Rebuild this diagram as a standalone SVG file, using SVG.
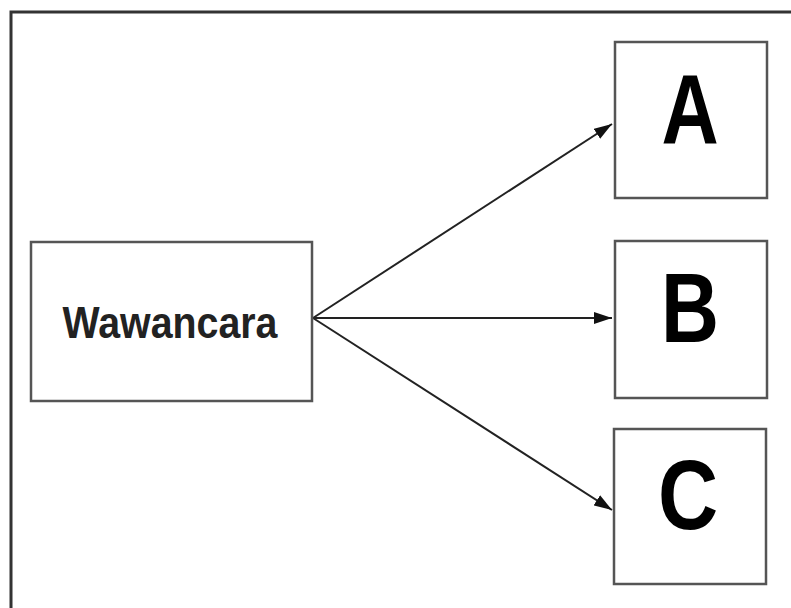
<svg xmlns="http://www.w3.org/2000/svg" width="791" height="608" viewBox="0 0 791 608">
  <style>
    .box { fill: #ffffff; stroke: #555555; stroke-width: 2.5; }
    .edge { stroke: #222222; stroke-width: 2; fill: none; marker-end: url(#arrow); }
    .label { font-family: "Liberation Sans", Arial, sans-serif; font-weight: bold; text-anchor: middle; }
  </style>
  <defs>
    <marker id="arrow" viewBox="0 0 18 12" refX="18" refY="6" markerWidth="18" markerHeight="12" markerUnits="userSpaceOnUse" orient="auto">
      <path d="M0,0 L18,6 L0,12 Z" fill="#111111"/>
    </marker>
  </defs>

  <!-- page background and frame -->
  <rect x="0" y="0" width="791" height="608" fill="#ffffff"/>
  <path d="M11,608 L11,12 L791,12" fill="none" stroke="#333333" stroke-width="3"/>

  <!-- connectors -->
  <g id="edges">
    <line class="edge" x1="313" y1="318" x2="612" y2="124"/>
    <line class="edge" x1="313" y1="318" x2="612" y2="318"/>
    <line class="edge" x1="313" y1="318" x2="612" y2="510"/>
  </g>

  <g id="node-wawancara">
    <rect class="box" x="31" y="242" width="281" height="159"/>
    <text class="label" x="170" y="338" font-size="44" fill="#222222" textLength="215" lengthAdjust="spacingAndGlyphs">Wawancara</text>
  </g>

  <g id="node-a">
    <rect class="box" x="615" y="42" width="152" height="156"/>
    <text class="label" font-size="99" fill="#000000" transform="translate(690,143) scale(0.8,1)">A</text>
  </g>

  <g id="node-b">
    <rect class="box" x="615" y="241" width="152" height="157"/>
    <text class="label" font-size="98" fill="#000000" transform="translate(690,342) scale(0.82,1)">B</text>
  </g>

  <g id="node-c">
    <rect class="box" x="614" y="429" width="152" height="155"/>
    <text class="label" font-size="98" fill="#000000" transform="translate(688,529) scale(0.85,1)">C</text>
  </g>
</svg>
